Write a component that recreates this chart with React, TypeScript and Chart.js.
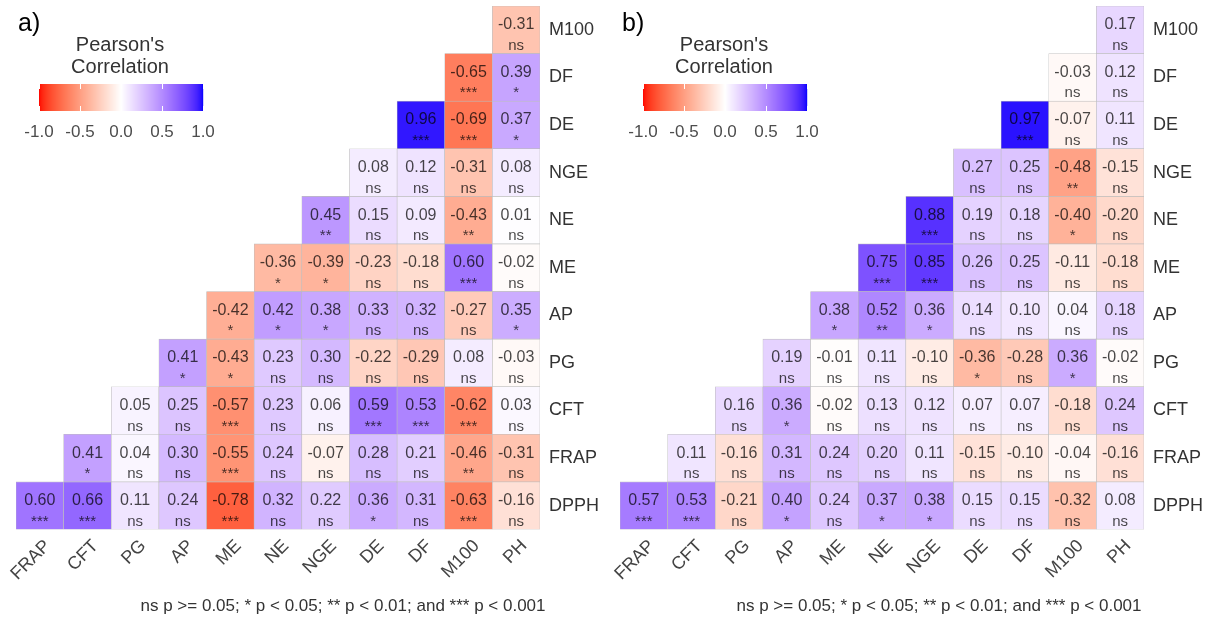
import React, { useEffect, useRef } from 'react';
import { Chart, registerables } from 'chart.js';

Chart.register(...registerables);

// ---------- categories ----------
const COLUMNS = ['FRAP', 'CFT', 'PG', 'AP', 'ME', 'NE', 'NGE', 'DE', 'DF', 'M100', 'PH'];
const ROWS = ['DPPH', 'FRAP', 'CFT', 'PG', 'AP', 'ME', 'NE', 'NGE', 'DE', 'DF', 'M100'];
const LEGEND_TICKS = [-1.0, -0.5, 0.0, 0.5, 1.0];
const FOOTNOTE = 'ns p >= 0.05; * p < 0.05; ** p < 0.01; and *** p < 0.001';
const LEGEND_TITLE = ["Pearson's", 'Correlation'];

// ---------- panel a) : each row starts at the column with the same index ----------
const A_DPPH = [0.60, 0.66, 0.11, 0.24, -0.78, 0.32, 0.22, 0.36, 0.31, -0.63, -0.16];
const A_FRAP = [0.41, 0.04, 0.30, -0.55, 0.24, -0.07, 0.28, 0.21, -0.46, -0.31];
const A_CFT = [0.05, 0.25, -0.57, 0.23, 0.06, 0.59, 0.53, -0.62, 0.03];
const A_PG = [0.41, -0.43, 0.23, 0.30, -0.22, -0.29, 0.08, -0.03];
const A_AP = [-0.42, 0.42, 0.38, 0.33, 0.32, -0.27, 0.35];
const A_ME = [-0.36, -0.39, -0.23, -0.18, 0.60, -0.02];
const A_NE = [0.45, 0.15, 0.09, -0.43, 0.01];
const A_NGE = [0.08, 0.12, -0.31, 0.08];
const A_DE = [0.96, -0.69, 0.37];
const A_DF = [-0.65, 0.39];
const A_M100 = [-0.31];

const A_DPPH_SIG = ['***', '***', 'ns', 'ns', '***', 'ns', 'ns', '*', 'ns', '***', 'ns'];
const A_FRAP_SIG = ['*', 'ns', 'ns', '***', 'ns', 'ns', 'ns', 'ns', '**', 'ns'];
const A_CFT_SIG = ['ns', 'ns', '***', 'ns', 'ns', '***', '***', '***', 'ns'];
const A_PG_SIG = ['*', '*', 'ns', 'ns', 'ns', 'ns', 'ns', 'ns'];
const A_AP_SIG = ['*', '*', '*', 'ns', 'ns', 'ns', '*'];
const A_ME_SIG = ['*', '*', 'ns', 'ns', '***', 'ns'];
const A_NE_SIG = ['**', 'ns', 'ns', '**', 'ns'];
const A_NGE_SIG = ['ns', 'ns', 'ns', 'ns'];
const A_DE_SIG = ['***', '***', '*'];
const A_DF_SIG = ['***', '*'];
const A_M100_SIG = ['ns'];

// ---------- panel b) ----------
const B_DPPH = [0.57, 0.53, -0.21, 0.40, 0.24, 0.37, 0.38, 0.15, 0.15, -0.32, 0.08];
const B_FRAP = [0.11, -0.16, 0.31, 0.24, 0.20, 0.11, -0.15, -0.10, -0.04, -0.16];
const B_CFT = [0.16, 0.36, -0.02, 0.13, 0.12, 0.07, 0.07, -0.18, 0.24];
const B_PG = [0.19, -0.01, 0.11, -0.10, -0.36, -0.28, 0.36, -0.02];
const B_AP = [0.38, 0.52, 0.36, 0.14, 0.10, 0.04, 0.18];
const B_ME = [0.75, 0.85, 0.26, 0.25, -0.11, -0.18];
const B_NE = [0.88, 0.19, 0.18, -0.40, -0.20];
const B_NGE = [0.27, 0.25, -0.48, -0.15];
const B_DE = [0.97, -0.07, 0.11];
const B_DF = [-0.03, 0.12];
const B_M100 = [0.17];

const B_DPPH_SIG = ['***', '***', 'ns', '*', 'ns', '*', '*', 'ns', 'ns', 'ns', 'ns'];
const B_FRAP_SIG = ['ns', 'ns', 'ns', 'ns', 'ns', 'ns', 'ns', 'ns', 'ns', 'ns'];
const B_CFT_SIG = ['ns', '*', 'ns', 'ns', 'ns', 'ns', 'ns', 'ns', 'ns'];
const B_PG_SIG = ['ns', 'ns', 'ns', 'ns', '*', 'ns', '*', 'ns'];
const B_AP_SIG = ['*', '**', '*', 'ns', 'ns', 'ns', 'ns'];
const B_ME_SIG = ['***', '***', 'ns', 'ns', 'ns', 'ns'];
const B_NE_SIG = ['***', 'ns', 'ns', '*', 'ns'];
const B_NGE_SIG = ['ns', 'ns', '**', 'ns'];
const B_DE_SIG = ['***', 'ns', 'ns'];
const B_DF_SIG = ['ns', 'ns'];
const B_M100_SIG = ['ns'];

const A_VALUES = [A_DPPH, A_FRAP, A_CFT, A_PG, A_AP, A_ME, A_NE, A_NGE, A_DE, A_DF, A_M100];
const A_SIGS = [A_DPPH_SIG, A_FRAP_SIG, A_CFT_SIG, A_PG_SIG, A_AP_SIG, A_ME_SIG, A_NE_SIG, A_NGE_SIG, A_DE_SIG, A_DF_SIG, A_M100_SIG];
const B_VALUES = [B_DPPH, B_FRAP, B_CFT, B_PG, B_AP, B_ME, B_NE, B_NGE, B_DE, B_DF, B_M100];
const B_SIGS = [B_DPPH_SIG, B_FRAP_SIG, B_CFT_SIG, B_PG_SIG, B_AP_SIG, B_ME_SIG, B_NE_SIG, B_NGE_SIG, B_DE_SIG, B_DF_SIG, B_M100_SIG];

// ---------- colour scale (CIELAB interpolation like ggplot's gradient2) ----------
const LOW_RGB = [255, 0, 0];
const MID_RGB = [255, 255, 255];
const HIGH_RGB = [0, 0, 255];

function toLin(c: number) {
  const v = c / 255;
  return v <= 0.04045 ? v / 12.92 : Math.pow((v + 0.055) / 1.055, 2.4);
}
function fromLin(c: number) {
  const v = c <= 0.0031308 ? 12.92 * c : 1.055 * Math.pow(c, 1 / 2.4) - 0.055;
  return Math.round(Math.max(0, Math.min(1, v)) * 255);
}
function rgbToLab(rgb: number[]) {
  const R = toLin(rgb[0]), G = toLin(rgb[1]), B = toLin(rgb[2]);
  const X = (0.4124 * R + 0.3576 * G + 0.1805 * B) / 0.95047;
  const Y = 0.2126 * R + 0.7152 * G + 0.0722 * B;
  const Z = (0.0193 * R + 0.1192 * G + 0.9505 * B) / 1.08883;
  const f = (t: number) => (t > 0.008856 ? Math.cbrt(t) : 7.787 * t + 16 / 116);
  const fx = f(X), fy = f(Y), fz = f(Z);
  return [116 * fy - 16, 500 * (fx - fy), 200 * (fy - fz)];
}
function labToRgb(lab: number[]) {
  const fy = (lab[0] + 16) / 116;
  const fx = fy + lab[1] / 500;
  const fz = fy - lab[2] / 200;
  const inv = (t: number) => (t * t * t > 0.008856 ? t * t * t : (t - 16 / 116) / 7.787);
  const X = inv(fx) * 0.95047, Y = inv(fy), Z = inv(fz) * 1.08883;
  const R = 3.2406 * X - 1.5372 * Y - 0.4986 * Z;
  const G = -0.9689 * X + 1.8758 * Y + 0.0415 * Z;
  const B = 0.0557 * X - 0.204 * Y + 1.057 * Z;
  return [fromLin(R), fromLin(G), fromLin(B)];
}
const LOW_LAB = rgbToLab(LOW_RGB);
const MID_LAB = rgbToLab(MID_RGB);
const HIGH_LAB = rgbToLab(HIGH_RGB);

function colorFor(v: number) {
  const t = Math.min(1, Math.abs(v));
  const end = v < 0 ? LOW_LAB : HIGH_LAB;
  const lab = [0, 1, 2].map((i) => MID_LAB[i] + (end[i] - MID_LAB[i]) * t);
  const rgb = labToRgb(lab);
  return `rgb(${rgb[0]},${rgb[1]},${rgb[2]})`;
}

const FONT = '"Liberation Sans", Arial, sans-serif';
const H = 621;

type PanelProps = { tag: string; values: number[][]; sigs: string[][]; width: number; left: number; noteX: number };

function Panel({ tag, values, sigs, width, left, noteX }: PanelProps) {
  const ref = useRef<HTMLCanvasElement>(null);

  useEffect(() => {
    const canvas = ref.current;
    if (!canvas) return;

    const datasets = ROWS.map((name, r) => ({
      label: name,
      data: COLUMNS.map((_, c) => (c >= r ? [r - 0.5, r + 0.5] : null)),
      backgroundColor: COLUMNS.map((_, c) => (c >= r ? colorFor(values[r][c - r]) : 'rgba(0,0,0,0)')),
      borderColor: '#bdbdbd',
      borderWidth: 0.6,
      borderSkipped: false,
      grouped: false,
      barPercentage: 1,
      categoryPercentage: 1,
    }));

    const cellText = {
      id: 'cellText',
      afterDatasetsDraw(chart: any) {
        const ctx = chart.ctx;
        const xs = chart.scales.x;
        const ys = chart.scales.y;
        ctx.save();
        ctx.fillStyle = 'rgba(0,0,0,0.72)';
        ctx.textAlign = 'center';
        for (let r = 0; r < ROWS.length; r++) {
          for (let c = r; c < COLUMNS.length; c++) {
            const x = xs.getPixelForValue(c);
            const y = ys.getPixelForValue(r);
            ctx.font = `16px ${FONT}`;
            ctx.textBaseline = 'middle';
            ctx.fillText(values[r][c - r].toFixed(2), x, y - 5);
            ctx.font = `15px ${FONT}`;
            ctx.textBaseline = 'alphabetic';
            ctx.fillText(sigs[r][c - r], x, y + 20);
          }
        }
        ctx.restore();
      },
    };

    const decorations = {
      id: 'decorations',
      afterDraw(chart: any) {
        const ctx = chart.ctx;
        ctx.save();
        // panel tag
        ctx.fillStyle = '#000';
        ctx.font = `25px ${FONT}`;
        ctx.textAlign = 'left';
        ctx.textBaseline = 'middle';
        ctx.fillText(tag, 18, 24);
        // legend title
        ctx.fillStyle = '#333';
        ctx.font = `20px ${FONT}`;
        ctx.textAlign = 'center';
        ctx.fillText(LEGEND_TITLE[0], 120, 45);
        ctx.fillText(LEGEND_TITLE[1], 120, 67);
        // colour bar
        const x0 = 39, x1 = 203, y0 = 84, y1 = 111;
        const n = x1 - x0;
        for (let i = 0; i < n; i++) {
          const v = -1 + (2 * (i + 0.5)) / n;
          ctx.fillStyle = colorFor(v);
          ctx.fillRect(x0 + i, y0, 1.2, y1 - y0);
        }
        ctx.strokeStyle = '#fff';
        ctx.lineWidth = 1;
        LEGEND_TICKS.forEach((t) => {
          const x = Math.round(x0 + ((t + 1) / 2) * n) + 0.5;
          ctx.beginPath();
          ctx.moveTo(x, y0);
          ctx.lineTo(x, y0 + 5);
          ctx.moveTo(x, y1 - 5);
          ctx.lineTo(x, y1);
          ctx.stroke();
        });
        ctx.fillStyle = '#4d4d4d';
        ctx.font = `17px ${FONT}`;
        LEGEND_TICKS.forEach((t) => {
          const x = x0 + ((t + 1) / 2) * n;
          ctx.fillText(t.toFixed(1), x, 132);
        });
        // footnote
        ctx.fillStyle = '#333';
        ctx.font = `17px ${FONT}`;
        ctx.fillText(FOOTNOTE, noteX, 606);
        ctx.restore();
      },
    };

    const chart = new Chart(canvas, {
      type: 'bar',
      data: { labels: COLUMNS, datasets: datasets as any },
      options: {
        responsive: false,
        animation: false,
        layout: { padding: { left: 16, top: 6, right: 0, bottom: 0 } },
        plugins: { legend: { display: false }, tooltip: { enabled: false } },
        scales: {
          x: {
            type: 'category',
            offset: true,
            grid: { display: false, drawTicks: false },
            border: { display: false },
            ticks: {
              autoSkip: false,
              minRotation: 45,
              maxRotation: 45,
              labelOffset: 8,
              padding: 6,
              color: '#444',
              font: { family: FONT, size: 18 },
            },
            afterFit: (s: any) => {
              s.height = H - 529.5;
              s.paddingLeft = 0;
              s.paddingRight = 0;
            },
          },
          y: {
            type: 'linear',
            position: 'right',
            min: -0.5,
            max: 10.5,
            grid: { display: false, drawTicks: false },
            border: { display: false },
            afterBuildTicks: (s: any) => {
              s.ticks = ROWS.map((_, i) => ({ value: i }));
            },
            ticks: {
              autoSkip: false,
              padding: 9,
              color: '#333',
              font: { family: FONT, size: 18 },
              callback: (v: any) => ROWS[Math.round(Number(v))] ?? '',
            },
            afterFit: (s: any) => {
              s.width = width - 540;
              s.paddingTop = 0;
              s.paddingBottom = 0;
            },
          },
        },
      } as any,
      plugins: [cellText, decorations],
    });

    return () => chart.destroy();
  }, [tag, values, sigs, width, noteX]);

  return (
    <canvas
      ref={ref}
      width={width}
      height={H}
      style={{ position: 'absolute', left, top: 0, width, height: H }}
    />
  );
}

export default function App() {
  return (
    <div style={{ position: 'absolute', left: 0, top: 0, width: 1214, height: 621, background: '#fff', overflow: 'hidden' }}>
      <Panel tag="a)" values={A_VALUES} sigs={A_SIGS} width={604} left={0} noteX={343} />
      <Panel tag="b)" values={B_VALUES} sigs={B_SIGS} width={610} left={604} noteX={335} />
    </div>
  );
}
